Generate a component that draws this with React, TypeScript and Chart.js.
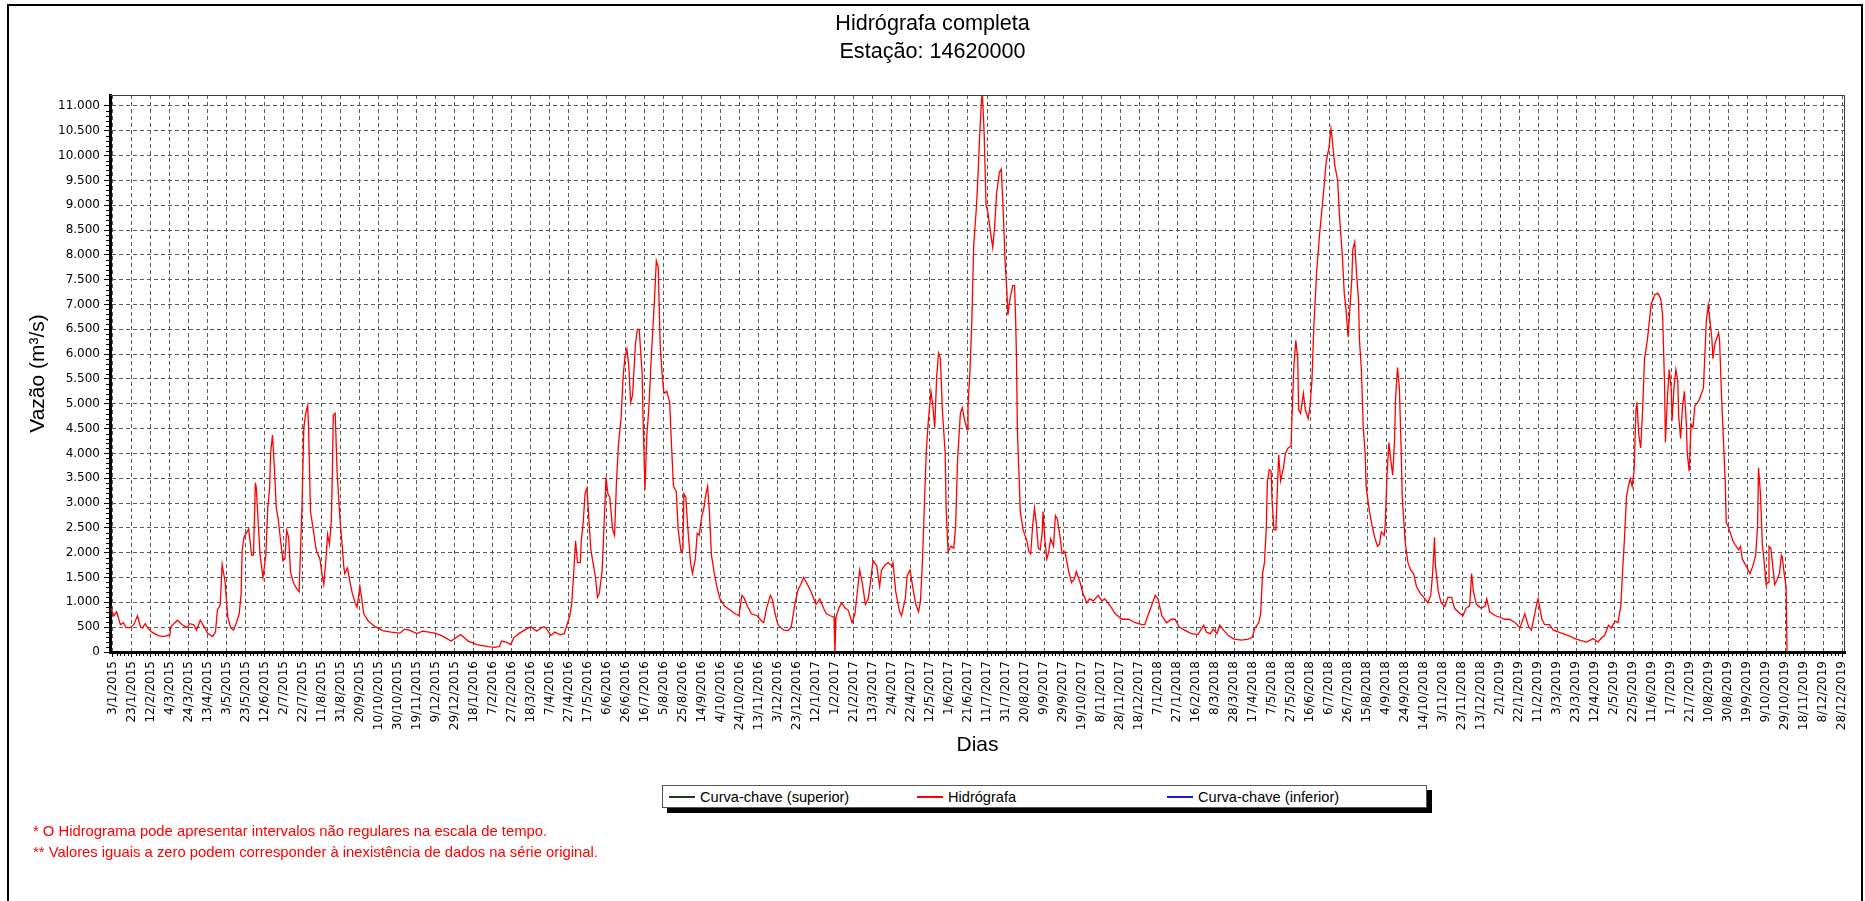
import React, { useEffect, useRef } from 'react';
import { Chart, registerables } from 'chart.js';

Chart.register(...registerables);

// ---- data ----
const START_DATE = '3/1/2015'; // day 0 of the x axis

const xTickLabels = [
  '3/1/2015', '23/1/2015', '12/2/2015', '4/3/2015', '24/3/2015', '13/4/2015', '3/5/2015', '23/5/2015', '12/6/2015', '2/7/2015',
  '22/7/2015', '11/8/2015', '31/8/2015', '20/9/2015', '10/10/2015', '30/10/2015', '19/11/2015', '9/12/2015', '29/12/2015',
  '18/1/2016', '7/2/2016', '27/2/2016', '18/3/2016', '7/4/2016', '27/4/2016', '17/5/2016', '6/6/2016', '26/6/2016', '16/7/2016',
  '5/8/2016', '25/8/2016', '14/9/2016', '4/10/2016', '24/10/2016', '13/11/2016', '3/12/2016', '23/12/2016',
  '12/1/2017', '1/2/2017', '21/2/2017', '13/3/2017', '2/4/2017', '22/4/2017', '12/5/2017', '1/6/2017', '21/6/2017', '11/7/2017',
  '31/7/2017', '20/8/2017', '9/9/2017', '29/9/2017', '19/10/2017', '8/11/2017', '28/11/2017', '18/12/2017',
  '7/1/2018', '27/1/2018', '16/2/2018', '8/3/2018', '28/3/2018', '17/4/2018', '7/5/2018', '27/5/2018', '16/6/2018', '6/7/2018',
  '26/7/2018', '15/8/2018', '4/9/2018', '24/9/2018', '14/10/2018', '3/11/2018', '23/11/2018', '13/12/2018',
  '2/1/2019', '22/1/2019', '11/2/2019', '3/3/2019', '23/3/2019', '12/4/2019', '2/5/2019', '22/5/2019', '11/6/2019', '1/7/2019',
  '21/7/2019', '10/8/2019', '30/8/2019', '19/9/2019', '9/10/2019', '29/10/2019', '18/11/2019', '8/12/2019', '28/12/2019',
];

const yTickValues = [0, 500, 1000, 1500, 2000, 2500, 3000, 3500, 4000, 4500, 5000, 5500,
  6000, 6500, 7000, 7500, 8000, 8500, 9000, 9500, 10000, 10500, 11000];

// days counted from START_DATE
const dias = [
  -2, 1, 4, 8, 11, 14, 18, 22, 26, 29, 31, 34, 37, 41, 48, 53, 60, 61, 68, 73, 78, 81, 85, 88, 92, 96, 100, 105, 108, 110,
  113, 115, 118, 121, 124, 127, 130, 133, 135, 136, 138, 143, 146, 148, 150, 151, 153, 155, 158, 161, 163, 165, 166, 168, 170,
  172, 174, 177, 179, 181, 183, 185, 187, 190, 193, 196, 199, 201, 203, 205, 206, 208, 211, 214, 218, 220, 222, 224, 226, 228,
  230, 231, 232, 234, 236, 239, 241, 243, 244, 247, 249, 252, 255, 257, 260, 262, 264, 269, 276, 284, 293, 302, 307, 312, 320,
  326, 339, 346, 356, 366, 374, 383, 395, 402, 407, 409, 414, 419, 422, 428, 435, 440, 446, 451, 454,
  456, 461, 465, 471, 475, 478, 481, 483, 485, 487, 489, 492, 493, 495, 497, 499, 501, 503, 505, 508, 510, 512, 515, 517, 519,
  521, 523, 526, 528, 530, 532, 535, 537, 539, 541, 543, 545, 547, 550, 552, 554, 557, 558, 560, 562, 564, 567, 570, 572, 574,
  576, 578, 580, 583, 586, 588, 590, 593, 595, 598, 600, 601, 603, 605, 608, 610, 613, 615, 617, 620, 622, 624, 626, 628, 630,
  633, 636, 639, 644, 650, 655, 659, 662, 664, 668, 672, 678, 683, 685, 688, 692, 694, 697, 700, 706, 711, 714, 718, 721, 724,
  727, 730, 735, 740, 744, 748, 751, 755, 759, 760, 761, 764, 767, 771, 774, 778, 781, 784, 786, 789, 792, 795, 798, 800, 804,
  807, 809, 813, 816, 820, 821, 824, 828, 830, 834, 836, 839, 842, 845, 848, 850, 852, 854, 856, 858, 861, 863, 865, 867, 869,
  871, 873, 876, 877, 879, 882, 885, 887, 889, 892, 894, 896, 899, 900, 902, 904, 906, 909, 911, 912, 914, 915, 917, 919, 921,
  923, 926, 928, 930, 933, 935, 937, 939, 941, 942, 944, 947, 949, 950, 951, 952, 954, 955, 958, 962, 964, 966, 968, 970, 972,
  974, 976, 978, 979, 981, 983, 985, 987, 990, 992, 994, 997, 999, 1002, 1006, 1009, 1012, 1014, 1018, 1021, 1025, 1028, 1032,
  1037, 1041, 1044, 1050, 1055, 1062, 1069, 1076, 1083, 1086, 1090, 1093, 1097, 1100, 1104, 1109, 1114, 1118, 1122, 1128, 1135,
  1142, 1148, 1151, 1155, 1158, 1162, 1165, 1169, 1174, 1180, 1188, 1195, 1199, 1202, 1206, 1208, 1210, 1212, 1214, 1215, 1217,
  1219, 1220, 1222, 1224, 1226, 1227, 1229, 1232, 1234, 1237, 1240, 1241, 1243, 1245, 1247, 1248, 1250, 1253, 1255, 1258, 1260,
  1262, 1264, 1267, 1270, 1274, 1277, 1280, 1282, 1283, 1286, 1289, 1291, 1294, 1296, 1298, 1300, 1302, 1304, 1305, 1307, 1309,
  1311, 1312, 1314, 1316, 1318, 1319, 1322, 1325, 1328, 1331, 1333, 1335, 1338, 1339, 1341, 1343, 1345, 1347, 1349, 1350, 1352,
  1354, 1356, 1357, 1360, 1363, 1366, 1369, 1372, 1376, 1381, 1384, 1387, 1389, 1391, 1392, 1395, 1398, 1402, 1405, 1409, 1412,
  1418, 1421, 1424, 1428, 1430, 1432, 1435, 1440, 1444, 1446, 1449, 1455, 1460, 1465, 1470, 1476, 1481, 1486, 1490, 1493, 1498,
  1500, 1504, 1507, 1512, 1516, 1523, 1532, 1540, 1551, 1558, 1563, 1567, 1570, 1574, 1577, 1581, 1584, 1587, 1589, 1591, 1593,
  1595, 1597, 1599, 1601, 1603, 1604, 1606, 1608, 1610, 1612, 1615, 1617, 1619, 1623, 1626, 1629, 1631, 1633, 1634, 1636, 1638,
  1640, 1641, 1643, 1645, 1647, 1648, 1650, 1652, 1654, 1656, 1657, 1659, 1661, 1663, 1665, 1668, 1670, 1674, 1676, 1677, 1679,
  1681, 1683, 1684, 1686, 1688, 1690, 1691, 1693, 1695, 1697, 1698, 1700, 1702, 1705, 1707, 1711, 1713, 1715, 1719, 1723, 1726,
  1729, 1731, 1732, 1734, 1736, 1738, 1740, 1742, 1743, 1745, 1747, 1749, 1751, 1754, 1756, 1757, 1759, 1761, 1762,
];

// Hidrógrafa (m³/s)
const vazao = [
  880, 730, 810, 550, 590, 490, 490, 550, 730, 510, 480, 570, 480, 400, 330, 310, 345, 510, 640, 550, 490, 570, 550, 440, 640, 510, 370, 310, 400, 840,
  950, 1760, 1430, 700, 490, 440, 590, 770, 1170, 2020, 2310, 2480, 1950, 1950, 3410, 3300, 2600, 1950, 1500, 1950, 2900, 3300, 4000, 4370, 3710,
  2900, 2680, 2170, 1840, 1870, 2450, 2310, 1610, 1400, 1290, 1210, 2900, 4520, 4810, 4960, 4520, 2830, 2460, 2060, 1870, 1580, 1360, 1800, 2370, 2170,
  2680, 3600, 4770, 4810, 3630, 2680, 2240, 1730, 1580, 1690, 1470, 1180, 990, 900, 1320, 1070, 770, 620, 510, 430, 400, 380, 460, 440, 370,
  420, 380, 330, 220, 350, 220, 150, 110, 95, 110, 220, 200, 150, 290, 380, 460, 510, 420, 490, 510,
  480, 330, 400, 345, 370, 550, 730, 990, 1580, 2240, 1800, 1800, 2240, 2610, 3190, 3300, 2680, 2060, 1840, 1500, 1100, 1180, 1650, 2570, 3520,
  3190, 3120, 2460, 2350, 3410, 4150, 4740, 5540, 5950, 6100, 5760, 5030, 5180, 6200, 6500, 6500, 5620, 4740, 3270, 4370, 4880, 6060, 7090, 7880, 7750,
  6200, 5620, 5210, 5250, 5030, 4150, 3340, 3230, 2460, 2020, 2090, 3190, 3120, 2530, 1800, 1580, 1870, 2390, 2350, 2750, 2900, 3160, 3340, 2750, 1950,
  1580, 1290, 1070, 920, 840, 770, 730, 1140, 1100, 920, 770, 730, 620, 590, 880, 1140, 1070, 770, 550, 440, 430, 510, 990, 1250, 1360,
  1500, 1400, 1210, 960, 1070, 880, 770, 730, 700, 0, 700, 880, 990, 880, 840, 590, 770, 1290, 1650, 1360, 960, 1070, 1500, 1840, 1730,
  1320, 1650, 1760, 1800, 1730, 1800, 1210, 810, 730, 1070, 1540, 1650, 1290, 960, 810, 1030, 1800, 2900, 4000, 4590, 5250, 4960, 4520, 5540, 6020,
  5910, 4880, 4000, 2900, 2020, 2130, 2090, 2530, 3860, 4810, 4920, 4700, 4480, 4960, 5620, 6650, 8190, 9000, 9800, 10300, 11050, 11300, 10460, 9000, 8850,
  8550, 8150, 8550, 9220, 9660, 9730, 8920, 7890, 7230, 6790, 7090, 7380, 7380, 6790, 5980, 4440, 3410, 2830, 2460, 2240, 2020, 1980, 2530, 2900, 2570,
  2090, 2060, 2390, 2830, 2240, 1870, 2020, 2280, 2130, 2750, 2680, 2310, 1980, 2020, 1620, 1400, 1470, 1620, 1400, 1180, 990, 1070, 1030,
  1140, 1030, 1070, 920, 770, 660, 660, 590, 550, 550, 770, 920, 1140, 1070, 730, 590, 660, 660, 510, 440, 370,
  350, 540, 400, 370, 460, 370, 540, 440, 330, 260, 240, 260, 290, 480, 590, 770, 1580, 1800, 2530, 3410, 3670,
  3640, 3050, 2460, 2460, 3490, 3970, 3450, 3710, 4000, 4110, 4150, 4740, 5760, 6280, 5910, 4880, 4810, 5210, 4880, 4700, 4960,
  5470, 6570, 7670, 8410, 9220, 9880, 10170, 10540, 10390, 9800, 9510, 8780, 7970, 7230, 6870, 6350, 6940, 7530, 8110, 8260, 7600,
  7090, 6280, 5690, 4520, 4000, 3340, 2900, 2570, 2310, 2130, 2170, 2420, 2350, 2530, 3560, 4220, 3860, 3560, 4300, 5100, 5730,
  5320, 4000, 3120, 2240, 1800, 1650, 1580, 1320, 1180, 1070, 990, 1140, 1580, 2310, 1730, 1210, 990, 920, 1100, 1100, 880,
  770, 730, 880, 930, 1580, 1210, 960, 880, 920, 1070, 810, 730, 700, 660, 660, 590, 490, 770, 510, 440, 920,
  1070, 660, 550, 550, 440, 390, 330, 260, 200, 270, 200, 290, 330, 540, 480, 620, 590, 920, 1650, 2310, 3120,
  3340, 3490, 3340, 3640, 4880, 5030, 4370, 4110, 4880, 5910, 6280, 6650, 7010, 7200, 7230, 7120, 6790, 5470, 4220, 5100, 5690,
  5320, 4660, 5320, 5690, 5470, 4740, 4300, 4960, 5250, 4590, 4000, 3640, 4590, 4520, 4960, 5030, 5100, 5320, 6200, 6650, 6980,
  6650, 6280, 5910, 6200, 6320, 6430, 6280, 5180, 4300, 3410, 2610, 2530, 2420, 2240, 2170, 2060, 2130, 1870, 1730, 1580, 1730,
  1950, 2530, 3710, 3190, 2170, 1800, 1360, 1400, 2130, 2090, 1730, 1360, 1430, 1580, 1950, 1910, 1580, 1320, 0,
];

const seriesNames = ['Curva-chave (superior)', 'Hidrógrafa', 'Curva-chave (inferior)'];
const seriesColors = ['#1f3a1f', '#ff0000', '#1a1ad0'];

const chartTitle = ['Hidrógrafa completa', 'Estação: 14620000'];
const yAxisTitle = 'Vazão (m³/s)';
const xAxisTitle = 'Dias';
const footnotes = [
  '* O Hidrograma pode apresentar intervalos não regulares na escala de tempo.',
  '** Valores iguais a zero podem corresponder à inexistência de dados na série original.',
];

// ---- helpers ----
const toUTC = (s: string) => {
  const [d, m, y] = s.split('/').map(Number);
  return Date.UTC(y, m - 1, d);
};
const dayOf = (s: string) => Math.round((toUTC(s) - toUTC(START_DATE)) / 86400000);
const xTickDays = xTickLabels.map(dayOf);
const fmtThousands = (v: number) => String(Math.round(v)).replace(/\B(?=(\d{3})+(?!\d))/g, '.');

const X_MIN = dayOf('31/12/2014');
const X_MAX = dayOf('31/12/2019');
const Y_MAX = 11220;

const FONT = "'Liberation Sans', Arial, sans-serif";
const TICK_FONT = "'DejaVu Sans', Verdana, sans-serif";

const axisDecor = {
  id: 'axisDecor',
  afterDraw(chart: any) {
    const { ctx, chartArea: a, scales } = chart;
    const xs = scales.x;
    const ys = scales.y;
    ctx.save();
    // thin frame on top / right
    ctx.strokeStyle = '#3a3a3a';
    ctx.lineWidth = 1;
    ctx.beginPath();
    ctx.moveTo(a.left, a.top + 0.5);
    ctx.lineTo(a.right - 0.5, a.top + 0.5);
    ctx.lineTo(a.right - 0.5, a.bottom);
    ctx.stroke();
    // minor ticks
    ctx.strokeStyle = '#000';
    ctx.beginPath();
    for (let i = 0; i < xTickDays.length - 1; i++) {
      const step = (xTickDays[i + 1] - xTickDays[i]) / 5;
      for (let k = 1; k < 5; k++) {
        const px = Math.round(xs.getPixelForValue(xTickDays[i] + k * step)) + 0.5;
        ctx.moveTo(px, a.bottom);
        ctx.lineTo(px, a.bottom + 4);
      }
    }
    for (let i = 0; i < yTickValues.length - 1; i++) {
      const step = (yTickValues[i + 1] - yTickValues[i]) / 5;
      for (let k = 1; k < 5; k++) {
        const py = Math.round(ys.getPixelForValue(yTickValues[i] + k * step)) + 0.5;
        ctx.moveTo(a.left - 4, py);
        ctx.lineTo(a.left, py);
      }
    }
    ctx.stroke();
    ctx.restore();
  },
};

function HydroChart() {
  const ref = useRef<HTMLCanvasElement | null>(null);
  useEffect(() => {
    if (!ref.current) return;
    const datasets = seriesNames.map((name, i) => ({
      label: name,
      data: name === 'Hidrógrafa' ? dias.map((d, j) => ({ x: d, y: vazao[j] })) : [],
      borderColor: seriesColors[i],
      backgroundColor: seriesColors[i],
      borderWidth: 1.3,
      pointRadius: 0,
      tension: 0,
      fill: false,
    }));
    const chart = new Chart(ref.current, {
      type: 'line',
      data: { datasets },
      options: {
        animation: false,
        responsive: false,
        devicePixelRatio: 1,
        layout: { padding: { left: 20, right: 20, top: 0, bottom: 139 } },
        plugins: {
          legend: { display: false },
          tooltip: { enabled: false },
          title: {
            display: true,
            text: chartTitle,
            color: '#000',
            font: { family: FONT, size: 21.6, weight: 'normal', lineHeight: 1.3 },
            padding: { top: 10, bottom: 28.84 },
          },
        },
        scales: {
          x: {
            type: 'linear',
            min: X_MIN,
            max: X_MAX,
            afterBuildTicks: (s: any) => { s.ticks = xTickDays.map((v) => ({ value: v })); },
            afterFit: (s: any) => { s.height = 110; },
            ticks: {
              autoSkip: false,
              minRotation: 90,
              maxRotation: 90,
              padding: 4,
              color: '#000',
              font: { family: TICK_FONT, size: 12 },
              callback: (v: any) => xTickLabels[xTickDays.indexOf(Number(v))] ?? '',
            },
            grid: {
              color: '#5a5a5a',
              lineWidth: 1,
              tickLength: 5,
              tickColor: '#000',
              tickWidth: 1,
              tickBorderDash: [],
            },
            border: { display: true, color: '#000', width: 3, dash: [4, 3] },
            title: {
              display: true,
              text: xAxisTitle,
              color: '#000',
              font: { family: FONT, size: 21, lineHeight: 1.2 },
              padding: { top: 4, bottom: 4 },
            },
          },
          y: {
            type: 'linear',
            min: 0,
            max: Y_MAX,
            afterBuildTicks: (s: any) => { s.ticks = yTickValues.map((v) => ({ value: v })); },
            afterFit: (s: any) => { s.width = 90; },
            ticks: {
              autoSkip: false,
              padding: 4,
              color: '#000',
              font: { family: TICK_FONT, size: 12 },
              callback: (v: any) => fmtThousands(Number(v)),
            },
            grid: {
              color: '#5a5a5a',
              lineWidth: 1,
              tickLength: 6,
              tickColor: '#000',
              tickWidth: 1,
              tickBorderDash: [],
            },
            border: { display: true, color: '#000', width: 3, dash: [4, 3] },
            title: {
              display: true,
              text: yAxisTitle,
              color: '#000',
              font: { family: FONT, size: 21, lineHeight: 1.2 },
              padding: { top: 6, bottom: 4 },
            },
          },
        },
      },
      plugins: [axisDecor],
    } as any);
    return () => chart.destroy();
  }, []);
  return <canvas ref={ref} width={1865} height={901} style={{ position: 'absolute', left: 0, top: 0, width: 1865, height: 901 }} />;
}

const legendPos = [
  { line: 669, text: 700 },
  { line: 917, text: 948 },
  { line: 1167, text: 1198 },
];

export default function App() {
  return (
    <div style={{ position: 'absolute', left: 0, top: 0, width: 1865, height: 901, background: '#fff', overflow: 'hidden' }}>
      <div style={{ position: 'absolute', left: 7, top: 4, width: 1856, height: 940, border: '2px solid #000', boxSizing: 'border-box' }} />
      <HydroChart />
      <div style={{ position: 'absolute', left: 667, top: 790, width: 765, height: 23, background: '#000' }} />
      <div style={{ position: 'absolute', left: 662, top: 785, width: 765, height: 23, background: '#fff', border: '1px solid #555', boxSizing: 'border-box' }} />
      {seriesNames.map((name, i) => (
        <React.Fragment key={name}>
          <div style={{ position: 'absolute', left: legendPos[i].line, top: 796, width: 26, height: 2, background: seriesColors[i] }} />
          <div style={{ position: 'absolute', left: legendPos[i].text, top: 788, fontFamily: FONT, fontSize: 14.6, lineHeight: '18px', color: '#000', whiteSpace: 'nowrap' }}>{name}</div>
        </React.Fragment>
      ))}
      {footnotes.map((t, i) => (
        <div key={i} style={{ position: 'absolute', left: 33, top: 822 + i * 21, fontFamily: FONT, fontSize: 14.8, lineHeight: '18px', color: '#ff0000', whiteSpace: 'nowrap' }}>{t}</div>
      ))}
    </div>
  );
}
